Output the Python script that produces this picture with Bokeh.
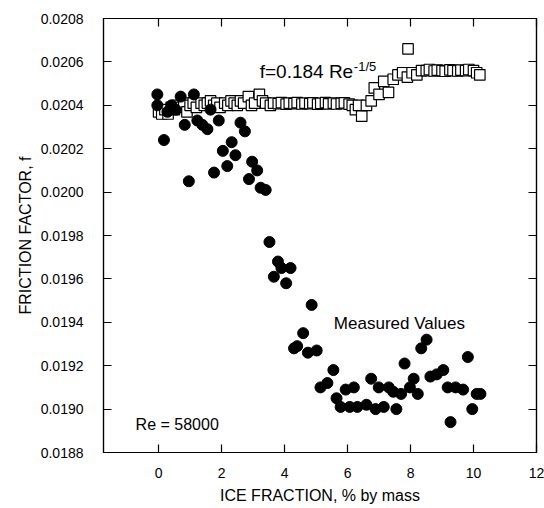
from bokeh.plotting import figure
from bokeh.models import LinearAxis, FixedTicker, PrintfTickFormatter, CustomJSTickFormatter, Label, Range1d
from bokeh.embed import file_html
from bokeh.resources import INLINE

# ---- data ----
ice_measured = [-0.04, -0.04, 0.17, 0.28, 0.41, 0.54, 0.70, 0.83, 0.96, 1.12,
                1.23, 1.39, 1.55, 1.65, 1.76, 1.91, 2.04, 2.18, 2.32, 2.44,
                2.60, 2.74, 2.87, 2.97, 3.13, 3.24, 3.40, 3.52, 3.66, 3.79,
                3.90, 4.05, 4.19, 4.30, 4.40, 4.59, 4.74, 4.86, 5.02, 5.14,
                5.36, 5.55, 5.65, 5.78, 5.94, 6.07, 6.20, 6.31, 6.60, 6.75,
                6.89, 6.99, 7.15, 7.31, 7.45, 7.55, 7.70, 7.81, 7.98, 8.10,
                8.23, 8.34, 8.51, 8.63, 8.83, 9.04, 9.18, 9.27, 9.43, 9.67,
                9.82, 9.96, 10.10, 10.22]
f_measured = [0.02045, 0.02040, 0.02024, 0.02037, 0.02040, 0.02038, 0.02044, 0.02031, 0.02005, 0.02045,
              0.02033, 0.02031, 0.02029, 0.02038, 0.02009, 0.02033, 0.02019, 0.02012, 0.02023, 0.02017,
              0.02032, 0.02028, 0.02006, 0.02014, 0.02010, 0.02002, 0.02001, 0.01977, 0.01961, 0.01968,
              0.01965, 0.01958, 0.01965, 0.01928, 0.01929, 0.01935, 0.01926, 0.01948, 0.01927, 0.01910,
              0.01912, 0.01918, 0.01905, 0.01901, 0.01909, 0.01901, 0.01910, 0.01901, 0.01902, 0.01914,
              0.01900, 0.01910, 0.01901, 0.01910, 0.01908, 0.01900, 0.01907, 0.01921, 0.01910, 0.01914,
              0.01907, 0.01928, 0.01932, 0.01915, 0.01916, 0.01918, 0.01910, 0.01894, 0.01910, 0.01909,
              0.01924, 0.01900, 0.01907, 0.01907]

ice_formula = [0.0, 0.1, 0.2, 0.3, 0.4, 0.5, 0.6, 0.7, 0.8, 0.9,
               1.0, 1.1, 1.2, 1.35, 1.45, 1.55, 1.65, 1.75, 1.85, 1.95,
               2.1, 2.2, 2.3, 2.4, 2.5, 2.6, 2.7, 2.85, 2.95, 3.05,
               3.2, 3.3, 3.4, 3.55, 3.65, 3.8, 3.9, 4.05, 4.15, 4.3,
               4.4, 4.55, 4.65, 4.8, 4.9, 5.05, 5.15, 5.3, 5.4, 5.55,
               5.65, 5.8, 5.9, 6.05, 6.15, 6.25, 6.35, 6.45, 6.6, 6.75,
               6.85, 7.0, 7.15, 7.3, 7.45, 7.6, 7.75, 7.9, 7.92, 8.05,
               8.2, 8.35, 8.5, 8.6, 8.75, 8.85, 9.0, 9.1, 9.25, 9.35,
               9.5, 9.6, 9.75, 9.85, 10.0, 10.1, 10.2]
f_formula = [0.02037, 0.02036, 0.02038, 0.02036, 0.02039, 0.02038, 0.02040, 0.02039, 0.02041, 0.02037,
             0.02040, 0.02041, 0.02039, 0.02041, 0.02040, 0.02041, 0.02042, 0.02040, 0.02041, 0.02039,
             0.02041, 0.02040, 0.02042, 0.02041, 0.02040, 0.02042, 0.02041, 0.02044, 0.02040, 0.02041,
             0.02045, 0.02042, 0.02041, 0.02040, 0.02041, 0.020408, 0.020412, 0.020405, 0.020410, 0.020408,
             0.020412, 0.020406, 0.020410, 0.020408, 0.020411, 0.020405, 0.020409, 0.020412, 0.020407, 0.020410,
             0.020406, 0.020409, 0.020411, 0.020405, 0.02040, 0.02038, 0.02040, 0.02035, 0.02040, 0.02042,
             0.02048, 0.02045, 0.02051, 0.02046, 0.02052, 0.02054, 0.02055, 0.02053, 0.02066, 0.02055,
             0.02054, 0.02056, 0.020560, 0.020565, 0.020558, 0.020562, 0.020560, 0.020557, 0.020563, 0.020560,
             0.020558, 0.020562, 0.020560, 0.020565, 0.020560, 0.02055, 0.02054]

x_ticks = [0, 2, 4, 6, 8, 10, 12]
y_ticks = [0.0188, 0.0190, 0.0192, 0.0194, 0.0196, 0.0198, 0.0200,
           0.0202, 0.0204, 0.0206, 0.0208]

FONT = "Liberation Sans"

p = figure(width=544, height=508,
           x_range=Range1d(-1.75, 12), y_range=Range1d(0.0188, 0.0208),
           output_backend="svg", toolbar_location=None,
           min_border_left=103, min_border_right=8, min_border_top=18, min_border_bottom=56,
           x_axis_label="ICE FRACTION, % by mass", y_axis_label="FRICTION FACTOR, f")
p.grid.visible = False
p.outline_line_color = "black"
p.outline_line_width = 1.2
p.background_fill_color = "white"
p.border_fill_color = "white"

def style_axis(ax):
    ax.major_tick_in = 8
    ax.major_tick_out = 0
    ax.minor_tick_in = 0
    ax.minor_tick_out = 0
    ax.axis_line_color = "black"
    ax.axis_line_width = 1.2
    ax.major_tick_line_color = "black"
    ax.major_tick_line_width = 1.2
    ax.major_label_text_font = FONT
    ax.major_label_text_font_size = "14px"
    ax.major_label_text_color = "black"
    ax.axis_label_text_font = FONT
    ax.axis_label_text_font_size = "16px"
    ax.axis_label_text_font_style = "normal"
    ax.axis_label_text_color = "black"

for ax in p.xaxis:
    style_axis(ax)
    ax.ticker = FixedTicker(ticks=x_ticks)
    ax.major_label_standoff = 15
    ax.axis_label_standoff = 6
for ax in p.yaxis:
    style_axis(ax)
    ax.ticker = FixedTicker(ticks=y_ticks)
    ax.formatter = PrintfTickFormatter(format="%.4f")
    ax.major_label_standoff = 20
    ax.axis_label_standoff = 4

# mirrored tick marks on the top and right edges (no labels)
top = LinearAxis(ticker=FixedTicker(ticks=x_ticks))
right = LinearAxis(ticker=FixedTicker(ticks=y_ticks))
for ax in (top, right):
    style_axis(ax)
    ax.formatter = CustomJSTickFormatter(code="return ''")
    ax.major_label_text_color = None
    ax.major_label_standoff = 0
p.add_layout(top, "above")
p.add_layout(right, "right")

p.scatter(ice_formula, f_formula, marker="square", size=10.5,
          fill_color="white", line_color="black", line_width=1.2)
p.scatter(ice_measured, f_measured, marker="circle", size=11,
          fill_color="black", line_color="black")

p.add_layout(Label(x=3.21, y=0.020558, text="f=0.184 Re", text_font=FONT,
                   text_font_size="19px", text_baseline="alphabetic", text_color="black"))
p.add_layout(Label(x=6.2, y=0.020579, text="-1/5", text_font=FONT,
                   text_font_size="13px", text_baseline="alphabetic", text_color="black"))
p.add_layout(Label(x=5.565, y=0.019396, text="Measured Values", text_font=FONT,
                   text_font_size="17px", text_baseline="alphabetic", text_color="black"))
p.add_layout(Label(x=-0.73, y=0.018929, text="Re = 58000", text_font=FONT,
                   text_font_size="16px", text_baseline="alphabetic", text_color="black"))

open("out.html", "w").write(file_html(p, INLINE))
